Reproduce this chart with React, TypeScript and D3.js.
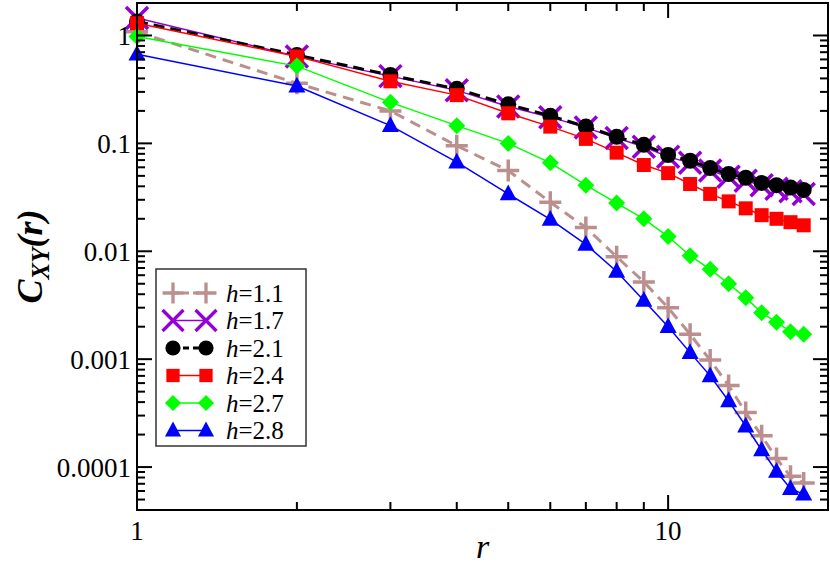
import React, { useEffect, useRef } from 'react';
import * as d3 from 'd3';

// r = 1..18
const rValues = d3.range(1, 19);

const h11 = [1.08, 0.36, 0.2, 0.095, 0.056, 0.0285, 0.0166, 0.0089, 0.0052, 0.003, 0.0017, 0.00098, 0.00057, 0.00032, 0.000195, 0.00012, 0.000082, 0.000071];
const h17 = [1.45, 0.64, 0.42, 0.31, 0.22, 0.175, 0.14, 0.112, 0.093, 0.075, 0.066, 0.056, 0.049, 0.045, 0.041, 0.038, 0.036, 0.034];
const h21 = [1.35, 0.66, 0.43, 0.32, 0.23, 0.18, 0.143, 0.115, 0.097, 0.078, 0.069, 0.059, 0.052, 0.048, 0.043, 0.041, 0.039, 0.037];
const h24 = [1.3, 0.64, 0.376, 0.28, 0.19, 0.143, 0.11, 0.082, 0.063, 0.053, 0.042, 0.034, 0.029, 0.025, 0.0216, 0.02, 0.0186, 0.0174];
const h27 = [0.98, 0.52, 0.24, 0.146, 0.1, 0.066, 0.041, 0.028, 0.02, 0.0137, 0.0091, 0.0068, 0.005, 0.0037, 0.0027, 0.0022, 0.0018, 0.0017];
const h28 = [0.67, 0.34, 0.146, 0.067, 0.034, 0.0198, 0.0116, 0.0065, 0.0035, 0.002, 0.00115, 0.0007, 0.00041, 0.00024, 0.000144, 0.000091, 0.000063, 0.000056];

const yTickValues = [1, 0.1, 0.01, 0.001, 0.0001];
const yTickLabels = ['1', '0.1', '0.01', '0.001', '0.0001'];
const xTickValues = [1, 10];
const xTickLabels = ['1', '10'];

type Marker = 'plus' | 'cross' | 'circle' | 'square' | 'diamond' | 'triangle';

const seriesList: { label: string; values: number[]; color: string; marker: Marker; dash: string | null; width: number }[] = [
  { label: '1.1', values: h11, color: '#bc8f8f', marker: 'plus', dash: '11,7', width: 3 },
  { label: '1.7', values: h17, color: '#9400d3', marker: 'cross', dash: null, width: 1.5 },
  { label: '2.1', values: h21, color: '#000000', marker: 'circle', dash: '11,6', width: 3 },
  { label: '2.4', values: h24, color: '#ff0000', marker: 'square', dash: null, width: 1.5 },
  { label: '2.7', values: h27, color: '#00ff00', marker: 'diamond', dash: null, width: 1.5 },
  { label: '2.8', values: h28, color: '#0000ff', marker: 'triangle', dash: null, width: 1.5 },
];

const W = 830;
const H = 565;
const margin = { left: 137, top: 3, right: 2, bottom: 55 };
const FONT = "'Liberation Serif', Tinos, 'Times New Roman', Times, 'DejaVu Serif', serif";

function drawMarker(g: d3.Selection<SVGGElement, unknown, null, undefined>, m: Marker, x: number, y: number, color: string) {
  if (m === 'plus') {
    const s = 11;
    g.append('path').attr('d', `M${x - s},${y}H${x + s}M${x},${y - s}V${y + s}`)
      .attr('stroke', color).attr('stroke-width', 3.5).attr('fill', 'none');
  } else if (m === 'cross') {
    const s = 11;
    g.append('path').attr('d', `M${x - s},${y - s}L${x + s},${y + s}M${x - s},${y + s}L${x + s},${y - s}`)
      .attr('stroke', color).attr('stroke-width', 3.5).attr('fill', 'none');
  } else if (m === 'circle') {
    g.append('circle').attr('cx', x).attr('cy', y).attr('r', 8).attr('fill', color);
  } else if (m === 'square') {
    g.append('rect').attr('x', x - 7).attr('y', y - 7).attr('width', 14).attr('height', 14).attr('fill', color);
  } else if (m === 'diamond') {
    const s = 8.5;
    g.append('path').attr('d', `M${x},${y - s}L${x + s},${y}L${x},${y + s}L${x - s},${y}Z`).attr('fill', color);
  } else {
    const s = 8.5;
    g.append('path').attr('d', `M${x},${y - s * 1.1}L${x + s},${y + s * 0.75}L${x - s},${y + s * 0.75}Z`).attr('fill', color);
  }
}

export default function App() {
  const ref = useRef<SVGSVGElement>(null);

  useEffect(() => {
    const svg = d3.select(ref.current);
    svg.selectAll('*').remove();

    const x = d3.scaleLog().domain([1, 20]).range([margin.left, W - margin.right]);
    const y = d3.scaleLog().domain([4e-5, 2]).range([H - margin.bottom, margin.top]);
    const [x0, x1] = x.range();
    const [y0, y1] = y.range();

    // data
    const plot = svg.append('g');
    seriesList.forEach(s => {
      const line = d3.line<number>().x((_, i) => x(rValues[i])).y(v => y(v));
      plot.append('path').datum(s.values).attr('d', line)
        .attr('fill', 'none').attr('stroke', s.color).attr('stroke-width', s.width)
        .attr('stroke-dasharray', s.dash);
      const mg = plot.append('g');
      s.values.forEach((v, i) => drawMarker(mg, s.marker, x(rValues[i]), y(v), s.color));
    });

    // frame and ticks
    const ax = svg.append('g').attr('stroke', '#000').attr('stroke-width', 2).attr('fill', 'none');
    ax.append('rect').attr('x', x0).attr('y', y1).attr('width', x1 - x0).attr('height', y0 - y1);

    const xMinor = d3.range(2, 10).concat([20]);
    xMinor.forEach(t => {
      ax.append('line').attr('x1', x(t)).attr('x2', x(t)).attr('y1', y0).attr('y2', y0 - 8);
      ax.append('line').attr('x1', x(t)).attr('x2', x(t)).attr('y1', y1).attr('y2', y1 + 8);
    });
    xTickValues.forEach(t => {
      ax.append('line').attr('x1', x(t)).attr('x2', x(t)).attr('y1', y0).attr('y2', y0 - 15);
      ax.append('line').attr('x1', x(t)).attr('x2', x(t)).attr('y1', y1).attr('y2', y1 + 15);
    });
    const yMinor: number[] = [];
    [1e-5, 1e-4, 1e-3, 1e-2, 1e-1, 1].forEach(d => {
      for (let k = 2; k <= 9; k++) {
        const v = d * k;
        if (v >= 4e-5 && v <= 2) yMinor.push(v);
      }
    });
    yMinor.forEach(t => {
      ax.append('line').attr('x1', x0).attr('x2', x0 + 8).attr('y1', y(t)).attr('y2', y(t));
      ax.append('line').attr('x1', x1).attr('x2', x1 - 8).attr('y1', y(t)).attr('y2', y(t));
    });
    yTickValues.forEach(t => {
      ax.append('line').attr('x1', x0).attr('x2', x0 + 15).attr('y1', y(t)).attr('y2', y(t));
      ax.append('line').attr('x1', x1).attr('x2', x1 - 15).attr('y1', y(t)).attr('y2', y(t));
    });

    // tick labels
    yTickValues.forEach((t, i) => {
      svg.append('text').attr('x', x0 - 6).attr('y', y(t)).attr('dy', '0.35em')
        .attr('text-anchor', 'end').style('font-family', FONT).attr('font-size', 27)
        .text(yTickLabels[i]);
    });
    xTickValues.forEach((t, i) => {
      svg.append('text').attr('x', x(t)).attr('y', y0 + 30)
        .attr('text-anchor', 'middle').style('font-family', FONT).attr('font-size', 27)
        .text(xTickLabels[i]);
    });

    // axis titles
    svg.append('text').attr('x', (x0 + x1) / 2).attr('y', 558)
      .attr('text-anchor', 'middle').style('font-family', FONT).attr('font-size', 34)
      .attr('font-style', 'italic').text('r');
    const yt = svg.append('text').attr('transform', `translate(42,${(y0 + y1) / 2}) rotate(-90)`)
      .attr('text-anchor', 'middle').style('font-family', FONT).attr('font-size', 36)
      .attr('font-style', 'italic').attr('font-weight', 'bold');
    yt.append('tspan').text('C');
    yt.append('tspan').attr('font-size', 25).attr('dy', 7).text('XY');
    yt.append('tspan').attr('dy', -7).text('(r)');

    // legend
    const lg = svg.append('g');
    lg.append('rect').attr('x', 156).attr('y', 269).attr('width', 150).attr('height', 177)
      .attr('fill', '#fff').attr('stroke', '#333').attr('stroke-width', 1.5);
    seriesList.forEach((s, i) => {
      const ly = 293 + i * 27.5;
      const row = lg.append('g');
      row.append('line').attr('x1', 173).attr('x2', 206).attr('y1', ly).attr('y2', ly)
        .attr('stroke', s.color).attr('stroke-width', s.width)
        .attr('stroke-dasharray', s.dash ? '6,4' : null);
      [173, 206].forEach(mx => {
        const sub = row.append('g').attr('transform', `translate(${mx},${ly}) scale(0.95)`);
        drawMarker(sub, s.marker, 0, 0, s.color);
      });
      const t = row.append('text').attr('x', 226).attr('y', ly).attr('dy', '0.35em')
        .style('font-family', FONT).attr('font-size', 25);
      t.append('tspan').attr('font-style', 'italic').text('h');
      t.append('tspan').text('=' + s.label);
    });
  }, []);

  return (
    <div style={{ position: 'absolute', left: 0, top: 0 }}>
      <svg ref={ref} width={W} height={H} style={{ display: 'block', background: '#fff' }} />
    </div>
  );
}
